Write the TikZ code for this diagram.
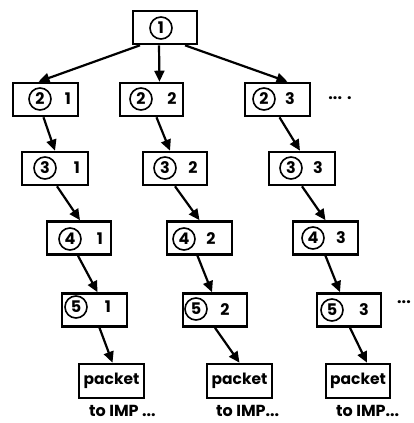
\documentclass[tikz,border=0pt]{standalone}
\usepackage{fontspec}
\setmainfont{Poppins}
\usetikzlibrary{arrows.meta}
\begin{document}
\begin{tikzpicture}[x=1pt,y=-1pt,
  box/.style={draw,line width=2.6pt,minimum height=33pt,inner sep=0pt},
  num/.style={circle,draw,line width=1.6pt,minimum size=22pt,inner sep=0pt,font=\fontsize{16}{16}\selectfont\bfseries},
  lab/.style={inner sep=0pt,font=\fontsize{16}{16}\selectfont\bfseries},
  pk/.style={box,minimum height=34pt,font=\fontsize{15.5}{15.5}\selectfont\bfseries},
  conn/.style={line width=2.2pt,-{Triangle[length=11pt,width=10pt]}},
  ]
\useasboundingbox (0,0) rectangle (414,423);

% root
\node[box,minimum width=64pt] (b1) at (165,27.5) {};
\node[num] (c1) at (161,28) {1};

% level 2
\node[box,minimum width=65pt] (b21) at (45.5,99.5) {};
\node[num] (c21) at (40,99) {2};
\node[lab] (n21) at (68,99) {1};
\node[box,minimum width=63pt] (b22) at (151.5,99.5) {};
\node[num] (c22) at (141,99) {2};
\node[lab] (n22) at (172,99) {2};
\node[box,minimum width=65pt] (b23) at (277.5,99.5) {};
\node[num] (c23) at (264,99) {2};
\node[lab] (n23) at (290,99) {3};
\node[lab] (d2) at (340,98) {\raisebox{0.5pt}{...}\hspace{5pt}.};

% level 3
\node[box,minimum width=66pt] (b31) at (55,168.5) {};
\node[num] (c31) at (45,168) {3};
\node[lab] (n31) at (77,168) {1};
\node[box,minimum width=64pt] (b32) at (175,168.5) {};
\node[num] (c32) at (165,168) {3};
\node[lab] (n32) at (193,168) {2};
\node[box,minimum width=66pt] (b33) at (302,168.5) {};
\node[num] (c33) at (291,168) {3};
\node[lab] (n33) at (318,168) {3};

% level 4
\node[box,minimum width=64pt] (b41) at (79,238) {};
\node[num] (c41) at (70,239) {4};
\node[lab] (n41) at (100,239) {1};
\node[box,minimum width=65pt] (b42) at (199.5,238) {};
\node[num] (c42) at (184,239) {4};
\node[lab] (n42) at (211,239) {2};
\node[box,minimum width=65pt] (b43) at (325.5,238) {};
\node[num] (c43) at (313,238) {4};
\node[lab] (n43) at (341,238) {3};

% level 5
\node[box,minimum width=65pt] (b51) at (94.5,310) {};
\node[num] (c51) at (76,307) {5};
\node[lab] (n51) at (108,307) {1};
\node[box,minimum width=64pt] (b52) at (215,310) {};
\node[num] (c52) at (196,309) {5};
\node[lab] (n52) at (225,310) {2};
\node[box,minimum width=64pt] (b53) at (349,310) {};
\node[num] (c53) at (332,310) {5};
\node[lab] (n53) at (364,310) {3};
\node[lab] (d5) at (404,302) {...};

% packets
\node[pk,minimum width=65pt] (p1) at (111.5,381) {packet};
\node[pk,minimum width=65pt] (p2) at (239.5,381) {packet};
\node[pk,minimum width=64pt] (p3) at (358,381) {packet};
\node[lab,anchor=west] (t1) at (89,411) {to IMP ...};
\node[lab,anchor=west] (t2) at (216,411) {to IMP...};
\node[lab,anchor=west] (t3) at (336,411) {to IMP...};

% root fan-out
\draw[conn] ([xshift=-25pt]b1.south) -- ([xshift=-7pt]b21.north);
\draw[conn] ([xshift=-6pt]b1.south) -- ([xshift=8pt]b22.north);
\draw[conn] ([xshift=20pt]b1.south) -- ([xshift=10pt]b23.north);

% chains
\draw[conn] ([xshift=-2pt]b21.south) -- ([xshift=0pt]b31.north);
\draw[conn] ([xshift=2pt]b31.south) -- ([xshift=1pt]b41.north);
\draw[conn] ([xshift=-1pt]b41.south) -- ([xshift=3pt]b51.north);
\draw[conn] ([xshift=5pt]b51.south) -- ([xshift=1pt]p1.north);

\draw[conn] ([xshift=5pt]b22.south) -- ([xshift=-5pt]b32.north);
\draw[conn] ([xshift=0pt]b32.south) -- ([xshift=0pt]b42.north);
\draw[conn] ([xshift=-2pt]b42.south) -- ([xshift=-3pt]b52.north);
\draw[conn] ([xshift=0pt]b52.south) -- ([xshift=0pt]p2.north);

\draw[conn] ([xshift=2pt]b23.south) -- ([xshift=-2pt]b33.north);
\draw[conn] ([xshift=0pt]b33.south) -- ([xshift=0pt]b43.north);
\draw[conn] ([xshift=0pt]b43.south) -- ([xshift=-9pt]b53.north);
\draw[conn] ([xshift=1pt]b53.south) -- ([xshift=9pt]p3.north);
\end{tikzpicture}
\end{document}
